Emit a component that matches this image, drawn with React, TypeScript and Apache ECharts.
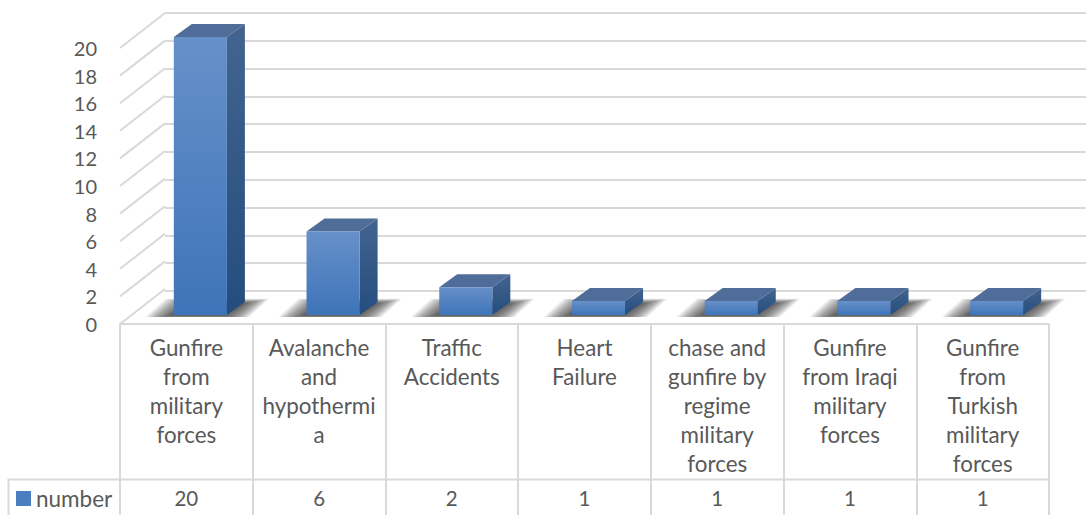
import React, { useEffect, useRef } from "react";
import * as echarts from "echarts";

const categories = [
  "Gunfire\nfrom\nmilitary\nforces",
  "Avalanche\nand\nhypothermi\na",
  "Traffic\nAccidents",
  "Heart\nFailure",
  "chase and\ngunfire by\nregime\nmilitary\nforces",
  "Gunfire\nfrom Iraqi\nmilitary\nforces",
  "Gunfire\nfrom\nTurkish\nmilitary\nforces",
];
const values = [20, 6, 2, 1, 1, 1, 1];
const yTicks = [0, 2, 4, 6, 8, 10, 12, 14, 16, 18, 20];
const seriesName = "number";

const FONT = "Lato, 'Open Sans', sans-serif";
const TEXT = "#595959";
const GRID = "#d9d9d9";
const DX = 18;
const DY = 13;
const WALL_DX = 45;
const WALL_DY = 35;
const SHADOW_LAYERS = [0, 1, 2, 3, 4, 5, 6, 7, 8, 9, 10, 11, 12, 13];

const grad = (a: string, b: string) =>
  new echarts.graphic.LinearGradient(0, 0, 0, 1, [
    { offset: 0, color: a },
    { offset: 1, color: b },
  ]);

export default function App() {
  const ref = useRef<HTMLDivElement>(null);
  useEffect(() => {
    const chart = echarts.init(ref.current!, undefined, { renderer: "svg" });
    chart.setOption({
      animation: false,
      backgroundColor: "#fff",
      textStyle: { fontFamily: FONT },
      grid: [
        { left: 120, right: 37, top: 48, height: 276 },
        { left: 134, right: 23, top: 37, height: 278 },
        { left: 165, right: 0, top: 13, height: 278 },
      ],
      legend: {
        left: 11,
        top: 482,
        itemWidth: 15,
        itemHeight: 15,
        data: [{ name: seriesName, icon: "rect", itemStyle: { color: "#4a7ebf" } }],
        textStyle: { fontFamily: FONT, fontSize: 22.5, color: TEXT },
      },
      xAxis: [
        {
          type: "category",
          gridIndex: 0,
          data: categories,
          axisLine: { lineStyle: { color: GRID, width: 2 } },
          axisTick: { show: true, length: 192, lineStyle: { color: GRID, width: 2 } },
          axisLabel: {
            interval: 0,
            margin: 9,
            fontFamily: FONT,
            fontSize: 22.4,
            lineHeight: 29,
            color: TEXT,
          },
        },
        {
          type: "category",
          gridIndex: 0,
          position: "bottom",
          offset: 150,
          data: values.map(String),
          axisLine: { show: false },
          axisTick: { show: false },
          axisLabel: {
            interval: 0,
            margin: 9,
            fontFamily: FONT,
            fontSize: 20.5,
            lineHeight: 29,
            color: TEXT,
          },
        },
        { type: "category", gridIndex: 1, show: false, data: categories },
        { type: "category", gridIndex: 2, show: false, data: categories },
      ],
      yAxis: [
        {
          type: "value",
          gridIndex: 0,
          min: 0,
          max: 20,
          interval: 2,
          axisLine: { show: false },
          axisTick: { show: false },
          splitLine: { show: false },
          axisLabel: { margin: 23, fontFamily: FONT, fontSize: 20, color: TEXT },
        },
        { type: "value", gridIndex: 1, min: 0, max: 20, interval: 2, show: false },
        {
          type: "value",
          gridIndex: 2,
          min: 0,
          max: 20,
          interval: 2,
          axisLine: { show: false },
          axisTick: { show: false },
          axisLabel: { show: false },
          splitLine: { show: true, lineStyle: { color: GRID, width: 2 } },
        },
      ],
      series: [
        {
          type: "custom",
          name: "wall",
          xAxisIndex: 0,
          yAxisIndex: 0,
          silent: true,
          z: 1,
          clip: false,
          data: yTicks.map((t) => [0, t]),
          renderItem: (_p: any, api: any) => {
            const c = api.coord([0, api.value(1)]);
            const x = 120;
            return {
              type: "line",
              shape: { x1: x, y1: c[1], x2: x + WALL_DX, y2: c[1] - WALL_DY },
              style: { stroke: GRID, lineWidth: 2, fill: "none" },
            };
          },
        },
        {
          type: "custom",
          name: "shadow",
          xAxisIndex: 2,
          yAxisIndex: 1,
          silent: true,
          z: 2,
          clip: false,
          data: values.map((v, i) => [i, v]),
          renderItem: (_p: any, api: any) => {
            const b = api.coord([api.value(0), 0]);
            const w = api.size([1, 0])[0] * 0.4;
            const l = b[0] - w / 2;
            const r = b[0] + w / 2;
            return {
              type: "group",
              children: SHADOW_LAYERS.map((k) => {
                const ex = 2 * (13 - k);
                const ey = 0.4 * (13 - k);
                return {
                  type: "polygon",
                  shape: {
                    points: [
                      [l - 2 - ex, b[1] + Math.min(ey, 2)],
                      [r + ex - 4, b[1] + Math.min(ey, 2)],
                      [r + 16 + ex, b[1] - 11 - ey],
                      [l + 18 - ex, b[1] - 11 - ey],
                    ],
                  },
                  style: { fill: "rgba(30,30,30,0.085)" },
                };
              }),
            };
          },
        },
        {
          type: "custom",
          name: seriesName,
          xAxisIndex: 2,
          yAxisIndex: 1,
          z: 3,
          clip: false,
          itemStyle: { color: "#4a7ebf" },
          data: values.map((v, i) => [i, v]),
          renderItem: (_p: any, api: any) => {
            const t = api.coord([api.value(0), api.value(1)]);
            const b = api.coord([api.value(0), 0]);
            const w = api.size([1, 0])[0] * 0.4;
            const l = t[0] - w / 2;
            const r = t[0] + w / 2;
            return {
              type: "group",
              children: [
                {
                  type: "polygon",
                  shape: {
                    points: [
                      [r, t[1]],
                      [r + DX, t[1] - DY],
                      [r + DX, b[1] - DY],
                      [r, b[1]],
                    ],
                  },
                  style: { fill: grad("#43648f", "#244d7e") },
                },
                {
                  type: "polygon",
                  shape: {
                    points: [
                      [l, t[1]],
                      [l + DX, t[1] - DY],
                      [r + DX, t[1] - DY],
                      [r, t[1]],
                    ],
                  },
                  style: { fill: "#4f6d98" },
                },
                {
                  type: "rect",
                  shape: { x: l, y: t[1], width: w, height: b[1] - t[1] },
                  style: { fill: grad("#6790c9", "#3e74b9") },
                },
              ],
            };
          },
        },
      ],
      graphic: [
        {
          type: "polyline",
          silent: true,
          shape: { points: [[8.5, 515], [8.5, 479.5], [1049, 479.5]] },
          style: { stroke: GRID, lineWidth: 2, fill: "none" },
        },
      ],
    });
    return () => chart.dispose();
  }, []);
  return <div ref={ref} style={{ position: "fixed", left: 0, top: 0, width: 1086, height: 515 }} />;
}
